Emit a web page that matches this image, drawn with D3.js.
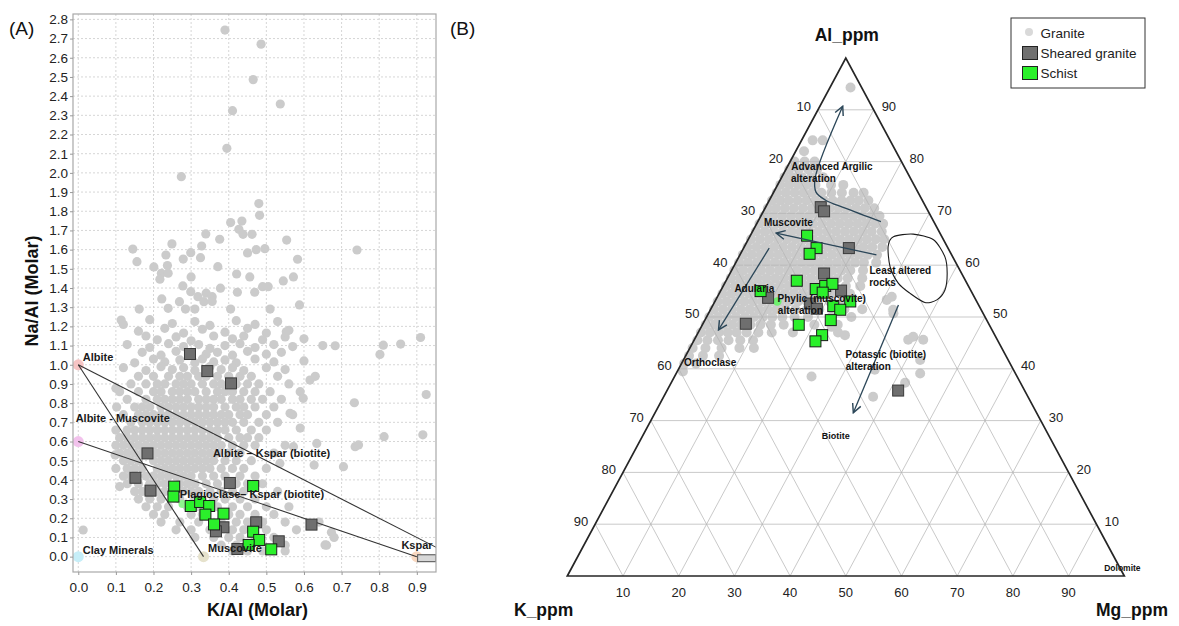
<!DOCTYPE html>
<html>
<head>
<meta charset="utf-8">
<script src="https://cdn.jsdelivr.net/npm/d3@7"></script>
<style>
  body { margin: 0; background: #fff; }
  svg { display: block; }
  text { font-family: Arial, "Liberation Sans", Helvetica, sans-serif; }
</style>
</head>
<body>
<svg id="chart" width="1179" height="626"></svg>
<script>
// ---------- Panel A : Na/Al vs K/Al (molar) ----------
const xTicksA = [0.0, 0.1, 0.2, 0.3, 0.4, 0.5, 0.6, 0.7, 0.8, 0.9];
const yTicksA = [0.0, 0.1, 0.2, 0.3, 0.4, 0.5, 0.6, 0.7, 0.8, 0.9, 1.0, 1.1, 1.2, 1.3, 1.4,
                 1.5, 1.6, 1.7, 1.8, 1.9, 2.0, 2.1, 2.2, 2.3, 2.4, 2.5, 2.6, 2.7, 2.8];

// granite samples in the main cluster, grouped by Na/Al level (K/Al values per level)
const graniteARows = [
  {y: 0.94, x: [0.16,0.20,0.24,0.27,0.29,0.32,0.34,0.37,0.40,0.43,0.46,0.53,0.63]},
  {y: 0.90, x: [0.14,0.18,0.21,0.23,0.26,0.28,0.30,0.33,0.36,0.38,0.42,0.45,0.48,0.56]},
  {y: 0.86, x: [0.11,0.16,0.20,0.22,0.25,0.27,0.29,0.31,0.34,0.37,0.39,0.41,0.44,0.47,0.51,0.59]},
  {y: 0.82, x: [0.13,0.18,0.21,0.23,0.25,0.27,0.29,0.32,0.34,0.36,0.38,0.41,0.43,0.46,0.49,0.54]},
  {y: 0.78, x: [0.15,0.17,0.19,0.22,0.24,0.26,0.28,0.30,0.32,0.34,0.36,0.39,0.42,0.44,0.47,0.52]},
  {y: 0.74, x: [0.12,0.16,0.18,0.20,0.22,0.24,0.26,0.28,0.30,0.32,0.34,0.36,0.38,0.40,0.43,0.45,0.50,0.57]},
  {y: 0.70, x: [0.14,0.17,0.19,0.21,0.23,0.25,0.27,0.29,0.31,0.33,0.35,0.37,0.39,0.41,0.44,0.48,0.53]},
  {y: 0.66, x: [0.10,0.13,0.15,0.17,0.19,0.21,0.23,0.25,0.27,0.29,0.31,0.33,0.35,0.37,0.39,0.42,0.46,0.50]},
  {y: 0.62, x: [0.11,0.13,0.15,0.17,0.19,0.21,0.23,0.25,0.27,0.29,0.31,0.33,0.35,0.37,0.40,0.43,0.45,0.48]},
  {y: 0.58, x: [0.10,0.12,0.14,0.16,0.18,0.20,0.22,0.24,0.26,0.28,0.30,0.32,0.34,0.36,0.38,0.41,0.44,0.47,0.55]},
  {y: 0.54, x: [0.11,0.13,0.15,0.17,0.19,0.21,0.23,0.25,0.27,0.29,0.31,0.33,0.35,0.37,0.40,0.43,0.52]},
  {y: 0.50, x: [0.12,0.14,0.16,0.20,0.22,0.24,0.26,0.28,0.30,0.32,0.34,0.36,0.39,0.42,0.46]},
  {y: 0.46, x: [0.10,0.13,0.15,0.17,0.21,0.23,0.25,0.27,0.29,0.31,0.33,0.35,0.38,0.41,0.44,0.50]},
  {y: 0.42, x: [0.12,0.14,0.18,0.20,0.22,0.24,0.26,0.28,0.30,0.33,0.36,0.39,0.43,0.47]},
  {y: 0.38, x: [0.13,0.16,0.19,0.21,0.23,0.27,0.29,0.31,0.34,0.37,0.42,0.45,0.49]},
  {y: 0.34, x: [0.15,0.17,0.21,0.23,0.28,0.30,0.32,0.35,0.38,0.41,0.44,0.53]},
  {y: 0.30, x: [0.16,0.19,0.22,0.27,0.31,0.36,0.39,0.43,0.47]},
  {y: 0.26, x: [0.18,0.21,0.24,0.29,0.32,0.37,0.41,0.45,0.50,0.56]},
  {y: 0.22, x: [0.20,0.23,0.30,0.33,0.40,0.43,0.47,0.52]},
  {y: 0.18, x: [0.22,0.27,0.32,0.38,0.42,0.45,0.49,0.55,0.64]},
  {y: 0.14, x: [0.26,0.30,0.35,0.41,0.44,0.50,0.58]},
  {y: 0.10, x: [0.31,0.36,0.40,0.43,0.47,0.52,0.68]},
  {y: 0.06, x: [0.38,0.42,0.46,0.55,0.66]},
  {y: 0.03, x: [0.41,0.45,0.49,0.55]}
];

// remaining granite samples [K/Al, Na/Al]
const graniteAScatter = [
  [0.12,1.21],[0.19,1.235],[0.25,1.215],[0.31,1.225],[0.35,1.205],[0.42,1.23],[0.47,1.21],[0.53,1.225],
  [0.16,1.175],[0.23,1.19],[0.28,1.165],[0.33,1.185],[0.39,1.17],[0.45,1.19],[0.50,1.165],[0.56,1.18],
  [0.18,1.15],[0.21,1.13],[0.26,1.145],[0.30,1.125],[0.36,1.15],[0.41,1.135],[0.44,1.15],[0.49,1.13],
  [0.55,1.145],[0.60,1.135],
  [0.13,1.105],[0.19,1.09],[0.24,1.11],[0.28,1.095],[0.32,1.105],[0.35,1.085],[0.39,1.10],[0.43,1.11],
  [0.47,1.09],[0.52,1.105],[0.57,1.095],[0.65,1.10],
  [0.17,1.065],[0.22,1.05],[0.26,1.07],[0.34,1.055],[0.37,1.065],[0.41,1.05],[0.45,1.07],[0.50,1.055],
  [0.54,1.065],
  [0.15,1.01],[0.20,1.03],[0.23,1.015],[0.27,1.025],[0.31,1.01],[0.33,1.03],[0.36,1.015],[0.39,1.025],
  [0.42,1.01],[0.47,1.03],[0.52,1.015],[0.60,1.02],
  [0.12,0.985],[0.18,0.97],[0.22,0.99],[0.25,0.975],[0.28,0.985],[0.31,0.97],[0.35,0.99],[0.38,0.975],
  [0.41,0.985],[0.44,0.97],[0.50,0.985],[0.55,0.975],
  [0.390,2.744],[0.486,2.671],[0.465,2.486],[0.410,2.324],[0.537,2.359],[0.395,2.128],[0.274,1.980],
  [0.480,1.840],[0.482,1.779],[0.405,1.741],[0.435,1.749],[0.427,1.706],[0.438,1.680],[0.462,1.680],
  [0.339,1.682],[0.376,1.654],[0.554,1.650],[0.145,1.603],[0.156,1.537],[0.249,1.630],[0.233,1.572],
  [0.201,1.510],[0.237,1.517],[0.221,1.477],[0.239,1.477],[0.217,1.446],[0.279,1.551],[0.299,1.584],
  [0.328,1.619],[0.325,1.558],[0.371,1.511],[0.300,1.458],[0.278,1.411],[0.299,1.381],[0.318,1.355],
  [0.340,1.373],[0.334,1.329],[0.356,1.355],[0.356,1.330],[0.269,1.329],[0.222,1.343],[0.378,1.399],
  [0.421,1.473],[0.423,1.378],[0.456,1.458],[0.450,1.583],[0.473,1.600],[0.496,1.605],[0.490,1.407],
  [0.505,1.407],[0.469,1.378],[0.545,1.437],[0.572,1.458],[0.583,1.550],[0.588,1.312],[0.741,1.598],
  [0.239,1.294],[0.162,1.290],[0.285,1.290],[0.310,1.290],[0.405,1.290],[0.510,1.290],[0.114,1.233],
  [0.553,1.172],[0.683,1.099],[0.811,1.102],[0.857,1.108],[0.910,1.142],[0.802,1.054],[0.925,0.845],
  [0.734,0.802],[0.813,0.625],[0.916,0.635],[0.736,0.573],[0.745,0.582],[0.705,0.469],[0.634,0.590],
  [0.627,0.477],[0.673,0.127],[0.656,0.061],[0.013,0.139],[0.616,0.920],[0.598,0.825],[0.563,0.747],
  [0.590,0.670],[0.572,0.573],[0.536,0.486],[0.100,0.877],[0.102,0.780],[0.098,0.530],[0.110,0.365]
];

const shearedA = [
  [0.297,1.056],[0.343,0.967],[0.406,0.903],[0.184,0.538],[0.152,0.411],[0.192,0.344],[0.403,0.384],
  [0.473,0.179],[0.386,0.153],[0.366,0.132],[0.620,0.167],[0.533,0.080],[0.423,0.040]
];
const schistA = [
  [0.255,0.365],[0.253,0.313],[0.299,0.264],[0.324,0.285],[0.348,0.264],[0.338,0.219],[0.386,0.224],
  [0.361,0.168],[0.465,0.368],[0.465,0.130],[0.481,0.087],[0.453,0.061],[0.513,0.038]
];
const schistDotsA = [[0.277,0.274]];

// mineral end members and the tie lines between them
const endMembersA = [
  {x: 0.0,   y: 1.0, color: "#f6c4c4"},
  {x: 0.0,   y: 0.6, color: "#f2c2ec"},
  {x: 0.0,   y: 0.0, color: "#c6eef8"},
  {x: 0.333, y: 0.0, color: "#e6e2cc"},
  {x: 0.9,   y: 0.0, color: "#f8d8c0"}
];
const tieLinesA = [
  [[0, 1.0], [0.333, 0]],
  [[0, 1.0], [1.0, 0]],
  [[0, 0.6], [0.9, 0]]
];
const ksparBoxA = {x0: 0.902, x1: 0.951, y0: 0.010, y1: -0.026};
const labelsA = [
  {text: "Albite", x: 0.012, y: 1.02},
  {text: "Albite - Muscovite", x: -0.007, y: 0.703},
  {text: "Albite – Kspar (biotite)", x: 0.358, y: 0.521},
  {text: "Plagioclase– Kspar (biotite)", x: 0.27, y: 0.304},
  {text: "Clay Minerals", x: 0.012, y: 0.014},
  {text: "Muscovite", x: 0.345, y: 0.026},
  {text: "Kspar", x: 0.859, y: 0.039}
];

// ---------- Panel B : Al - K - Mg ternary (percent) ----------
const ternTicks = [10, 20, 30, 40, 50, 60, 70, 80, 90];

// granite samples, grouped by Al % (Mg % values per level; K is the remainder)
const graniteBRows = [
  {al: 80.0, mg: [0.8,2.6,4.4]},
  {al: 78.5, mg: [0.6,2.3,4.0,5.6]},
  {al: 77.0, mg: [0.5,2.0,3.6,5.3,7.4]},
  {al: 75.5, mg: [0.5,2.1,3.7,5.2,6.8,9.6,11.8]},
  {al: 74.0, mg: [0.6,2.2,3.8,5.4,7.0,8.6,10.4,12.3,14.4,16.2]},
  {al: 72.5, mg: [0.5,2.0,3.5,5.1,6.7,8.3,9.8,11.4,13.0,14.6,16.1,17.8]},
  {al: 71.0, mg: [0.5,2.0,3.6,5.2,6.8,8.4,10.0,11.6,13.2,14.7,16.3,17.9,19.6]},
  {al: 69.5, mg: [0.6,2.2,3.8,5.4,7.0,8.6,10.2,11.8,13.4,15.0,16.6,18.2,19.8,21.3]},
  {al: 68.0, mg: [0.5,2.1,3.7,5.3,6.9,8.5,10.1,11.7,13.3,14.9,16.5,18.1,19.7,21.3,22.7]},
  {al: 66.5, mg: [0.6,2.2,3.8,5.4,7.0,8.6,10.2,11.8,13.4,15.0,16.6,18.2,19.8,21.4,23.2]},
  {al: 65.0, mg: [0.5,2.1,3.7,5.3,6.9,8.5,10.1,11.7,13.3,14.9,16.5,18.1,19.7,21.3,22.9,24.4]},
  {al: 63.5, mg: [0.6,2.2,3.8,5.4,7.0,8.6,10.2,11.8,13.4,15.0,16.6,18.2,19.8,21.4,23.0,24.8]},
  {al: 62.0, mg: [0.5,2.1,3.7,5.3,6.9,8.5,10.1,11.7,13.3,14.9,16.5,18.1,19.7,21.3,22.9,24.6]},
  {al: 60.5, mg: [0.6,2.2,3.8,5.4,7.0,8.6,10.2,11.8,13.4,15.0,16.6,18.2,19.8,21.4,23.0,25.2]},
  {al: 59.0, mg: [0.5,2.1,3.7,5.3,6.9,8.5,10.1,11.7,13.3,14.9,16.5,18.1,19.7,21.3,23.6]},
  {al: 57.5, mg: [0.6,2.2,3.8,5.4,7.0,8.6,10.2,11.8,13.4,15.0,16.6,18.2,19.8,21.6,24.2]},
  {al: 56.0, mg: [0.5,2.1,3.7,5.3,6.9,8.5,10.1,11.7,13.3,14.9,16.5,18.1,19.7,22.0,24.6]},
  {al: 54.5, mg: [0.6,2.2,3.8,5.4,7.0,8.6,10.2,11.8,13.4,15.0,16.6,18.2,20.1,23.5]},
  {al: 53.0, mg: [0.5,2.1,3.7,5.3,6.9,8.5,10.1,11.7,13.3,14.9,16.5,18.4,20.6,22.8]},
  {al: 51.5, mg: [0.6,2.2,3.8,5.4,7.0,8.6,10.2,11.8,13.4,15.2,17.3,19.5,24.0,27.2]},
  {al: 50.0, mg: [0.5,2.1,3.7,5.3,6.9,8.5,10.1,11.8,13.6,15.8,18.2,22.4,26.0]},
  {al: 48.5, mg: [0.6,2.2,3.8,5.4,7.0,8.6,10.4,12.3,14.6,20.1,24.3]},
  {al: 47.0, mg: [0.5,2.1,3.7,5.3,6.9,8.7,10.8,13.2,17.0,25.1]},
  {al: 45.5, mg: [0.6,2.4,4.3,6.2,8.3,10.6]},
  {al: 44.0, mg: [0.5,2.8,5.7,8.9,11.5]},
  {al: 42.5, mg: [0.6,3.1,6.0]},
  {al: 41.0, mg: [0.5,2.6]},
  {al: 39.5, mg: [1.0]}
];
// isolated granite samples [Al %, Mg %]
const graniteBScatter = [
  [94.3,3.7],[84.1,2.0],[84.1,3.8],[82.0,1.5],[46.5,26.6],[48.1,23.4],[38.5,24.6],[34.6,37.6],
  [39.8,35.3],[45.6,38.4],[45.6,41.1],[41.7,42.5],[50.7,33.2],[53.3,30.7],[39.1,43.8],[46.2,39.0],
  [37.3,42.0],[53.9,31.3],[51.4,32.8]
];
const shearedB = [
  [71.2,9.9],[70.4,10.9],[63.3,18.9],[58.4,16.9],[55.1,21.6],[53.7,9.2],[52.6,17.3],[51.6,19.0],
  [48.7,7.7],[35.8,41.5]
];
const schistB = [
  [65.7,10.2],[63.3,13.1],[62.2,12.4],[57.0,12.7],[55.4,16.9],[56.0,18.3],[56.4,19.4],[54.7,18.5],
  [55.0,7.2],[53.0,24.3],[52.1,21.7],[51.4,23.3],[49.4,22.6],[48.5,17.3],[46.5,22.5],[45.3,21.9]
];
const schistDotsB = [[53.0,11.2]];

// alteration trends [Al %, Mg %]
const trendsB = [
  [[68.4,22.1],[71.0,14.4],[72.6,10.0],[74.1,7.6],[76.8,6.1],[90.7,4.1]],
  [[62.0,24.5],[66.2,4.4]],
  [[63.3,4.6],[47.5,3.4]],
  [[52.3,33.3],[31.5,35.6]]
];
const leastAlteredB = [
  [65.5,25.8],[66.0,29.1],[64.9,33.3],[61.6,37.0],[58.4,39.0],[55.2,40.2],[53.3,39.7],
  [52.8,37.8],[54.6,34.2],[56.5,31.2],[59.7,28.1],[63.6,25.8]
];
const labelsB = [
  {text: "Advanced Argilic", al: 78.4, mg: 1.0, size: 10},
  {text: "alteration", al: 76.1, mg: 2.1, size: 10},
  {text: "Muscovite", al: 67.6, mg: 1.5, size: 10},
  {text: "Least altered", al: 58.3, mg: 25.1, size: 10},
  {text: "rocks", al: 56.0, mg: 26.2, size: 10},
  {text: "Adularia", al: 54.8, mg: 2.6, size: 10},
  {text: "Phylic (muscovite)", al: 52.9, mg: 11.3, size: 10},
  {text: "alteration", al: 50.6, mg: 12.5, size: 10},
  {text: "Orthoclase", al: 40.5, mg: 0.7, size: 10},
  {text: "Potassic (biotite)", al: 42.1, mg: 28.9, size: 10},
  {text: "alteration", al: 39.8, mg: 30.1, size: 10},
  {text: "Biotite", al: 26.4, mg: 32.5, size: 9},
  {text: "Dolomite", al: 1.0, mg: 95.9, size: 8.5}
];
const legendItems = [
  {label: "Granite", kind: "granite"},
  {label: "Sheared granite", kind: "sheared"},
  {label: "Schist", kind: "schist"}
];

// ---------- styles ----------
const C = {
  granite: "#cbcbcb",
  grid: "#d6d6d6",
  sheared: "#6f6f6f",
  schist: "#2bf02b",
  edge: "#262626",
  trend: "#2b4658"
};

const svg = d3.select("#chart");
const defs = svg.append("defs");

// =============== Panel A ===============
const A = {left: 73, right: 436, top: 14, bottom: 572};
const xA = d3.scaleLinear().domain([-0.014, 0.951]).range([A.left, A.right]);
const yA = d3.scaleLinear().domain([-0.08, 2.828]).range([A.bottom, A.top]);

defs.append("clipPath").attr("id", "clipA").append("rect")
  .attr("x", A.left).attr("y", A.top).attr("width", A.right - A.left).attr("height", A.bottom - A.top);

const gA = svg.append("g");
// dashed grid
gA.append("g").selectAll("line").data(xTicksA).join("line")
  .attr("x1", d => xA(d)).attr("x2", d => xA(d)).attr("y1", A.top).attr("y2", A.bottom)
  .attr("stroke", C.grid).attr("stroke-dasharray", "2,2");
gA.append("g").selectAll("line").data(yTicksA).join("line")
  .attr("x1", A.left).attr("x2", A.right).attr("y1", d => yA(d)).attr("y2", d => yA(d))
  .attr("stroke", C.grid).attr("stroke-dasharray", "2,2");

const plotA = gA.append("g").attr("clip-path", "url(#clipA)");
const granitePtsA = graniteARows.flatMap(r => r.x.map(x => [x, r.y])).concat(graniteAScatter);
plotA.append("g").selectAll("circle").data(granitePtsA).join("circle")
  .attr("cx", d => xA(d[0])).attr("cy", d => yA(d[1])).attr("r", 4.6).attr("fill", C.granite);

plotA.append("g").selectAll("circle").data(endMembersA).join("circle")
  .attr("cx", d => xA(d.x)).attr("cy", d => yA(d.y)).attr("r", 5.5).attr("fill", d => d.color);

plotA.append("g").selectAll("line").data(tieLinesA).join("line")
  .attr("x1", d => xA(d[0][0])).attr("y1", d => yA(d[0][1]))
  .attr("x2", d => xA(d[1][0])).attr("y2", d => yA(d[1][1]))
  .attr("stroke", "#333").attr("stroke-width", 1.1);

plotA.append("rect")
  .attr("x", xA(ksparBoxA.x0)).attr("y", yA(ksparBoxA.y0))
  .attr("width", xA(ksparBoxA.x1) - xA(ksparBoxA.x0)).attr("height", yA(ksparBoxA.y1) - yA(ksparBoxA.y0))
  .attr("fill", "#d8d8d8").attr("stroke", "#666").attr("stroke-width", 1.2);

plotA.append("g").selectAll("circle").data(schistDotsA).join("circle")
  .attr("cx", d => xA(d[0])).attr("cy", d => yA(d[1])).attr("r", 4).attr("fill", "#8ef58e");

const sq = 11;
plotA.append("g").selectAll("rect").data(shearedA).join("rect")
  .attr("x", d => xA(d[0]) - sq / 2).attr("y", d => yA(d[1]) - sq / 2)
  .attr("width", sq).attr("height", sq)
  .attr("fill", C.sheared).attr("stroke", "#3a3a3a").attr("stroke-width", 1);
plotA.append("g").selectAll("rect").data(schistA).join("rect")
  .attr("x", d => xA(d[0]) - sq / 2).attr("y", d => yA(d[1]) - sq / 2)
  .attr("width", sq).attr("height", sq)
  .attr("fill", C.schist).attr("stroke", "#1a1a1a").attr("stroke-width", 1);

gA.append("g").selectAll("text").data(labelsA).join("text")
  .attr("x", d => xA(d.x)).attr("y", d => yA(d.y))
  .attr("font-size", 11).attr("font-weight", "bold").attr("fill", "#1a1a1a")
  .text(d => d.text);

// frame
gA.append("rect").attr("x", A.left).attr("y", A.top)
  .attr("width", A.right - A.left).attr("height", A.bottom - A.top)
  .attr("fill", "none").attr("stroke", "#a8a8a8").attr("stroke-width", 1.2);

// axes
const axA_y = gA.append("g").attr("transform", `translate(${A.left},0)`)
  .call(d3.axisLeft(yA).tickValues(yTicksA).tickFormat(d3.format(".1f")).tickSize(3).tickPadding(2));
const axA_x = gA.append("g").attr("transform", `translate(0,${A.bottom})`)
  .call(d3.axisBottom(xA).tickValues(xTicksA).tickFormat(d3.format(".1f")).tickSize(3).tickPadding(7));
[axA_y, axA_x].forEach(ax => {
  ax.select(".domain").remove();
  ax.selectAll(".tick line").attr("stroke", "#999");
  ax.selectAll(".tick text").attr("font-size", 13.5).attr("fill", "#222")
    .attr("font-family", "Arial, 'Liberation Sans', sans-serif");
});

gA.append("text").attr("transform", `translate(38,${(A.top + A.bottom) / 2 - 2}) rotate(-90)`)
  .attr("text-anchor", "middle").attr("font-size", 18).attr("font-weight", "bold").attr("fill", "#111")
  .text("Na/Al (Molar)");
gA.append("text").attr("x", (A.left + A.right) / 2 + 3).attr("y", 616)
  .attr("text-anchor", "middle").attr("font-size", 18).attr("font-weight", "bold").attr("fill", "#111")
  .text("K/Al (Molar)");
svg.append("text").attr("x", 9).attr("y", 35).attr("font-size", 19).attr("fill", "#111").text("(A)");

// =============== Panel B ===============
// horizontal position depends on Mg + Al/2, vertical on Al
const xB = d3.scaleLinear().domain([0, 100]).range([567.3, 1124.3]);
const yB = d3.scaleLinear().domain([0, 100]).range([576, 58]);
const proj = (al, mg) => [xB(mg + al / 2), yB(al)];

const gB = svg.append("g");

// granite cloud
const granitePtsB = graniteBRows.flatMap(r => r.mg.map(m => [r.al, m])).concat(graniteBScatter);
gB.append("g").selectAll("circle").data(granitePtsB).join("circle")
  .attr("cx", d => proj(d[0], d[1])[0]).attr("cy", d => proj(d[0], d[1])[1])
  .attr("r", 5).attr("fill", C.granite);

// ternary grid (constant Al, constant Mg, constant K)
const gridSegs = [];
ternTicks.forEach(v => {
  gridSegs.push([proj(v, 0), proj(v, 100 - v)]);       // Al = v
  gridSegs.push([proj(0, v), proj(100 - v, v)]);       // Mg = v
  gridSegs.push([proj(0, 100 - v), proj(100 - v, 0)]); // K = v
});
gB.append("g").selectAll("line").data(gridSegs).join("line")
  .attr("x1", d => d[0][0]).attr("y1", d => d[0][1]).attr("x2", d => d[1][0]).attr("y2", d => d[1][1])
  .attr("stroke", "#b4b4b4").attr("stroke-opacity", 0.8).attr("stroke-width", 0.9);

gB.append("g").selectAll("circle").data(schistDotsB).join("circle")
  .attr("cx", d => proj(d[0], d[1])[0]).attr("cy", d => proj(d[0], d[1])[1])
  .attr("r", 4.3).attr("fill", "#6ff06f");

gB.append("g").selectAll("rect").data(shearedB).join("rect")
  .attr("x", d => proj(d[0], d[1])[0] - sq / 2).attr("y", d => proj(d[0], d[1])[1] - sq / 2)
  .attr("width", sq).attr("height", sq)
  .attr("fill", C.sheared).attr("stroke", "#3a3a3a").attr("stroke-width", 1);
gB.append("g").selectAll("rect").data(schistB).join("rect")
  .attr("x", d => proj(d[0], d[1])[0] - sq / 2).attr("y", d => proj(d[0], d[1])[1] - sq / 2)
  .attr("width", sq).attr("height", sq)
  .attr("fill", C.schist).attr("stroke", "#1a1a1a").attr("stroke-width", 1);

// trend arrows
defs.append("marker").attr("id", "openArrow")
  .attr("viewBox", "0 0 10 10").attr("refX", 9).attr("refY", 5)
  .attr("markerUnits", "userSpaceOnUse").attr("markerWidth", 11).attr("markerHeight", 11)
  .attr("orient", "auto")
  .append("path").attr("d", "M1,1 L9,5 L1,9").attr("fill", "none")
  .attr("stroke", C.trend).attr("stroke-width", 1.3);

const trendLine = d3.line().x(d => proj(d[0], d[1])[0]).y(d => proj(d[0], d[1])[1])
  .curve(d3.curveCatmullRom.alpha(0.5));
gB.append("g").selectAll("path").data(trendsB).join("path")
  .attr("d", trendLine).attr("fill", "none")
  .attr("stroke", C.trend).attr("stroke-width", 1.3).attr("marker-end", "url(#openArrow)");

// least altered field
gB.append("path").datum(leastAlteredB)
  .attr("d", d3.line().x(d => proj(d[0], d[1])[0]).y(d => proj(d[0], d[1])[1]).curve(d3.curveCardinalClosed.tension(0.2)))
  .attr("fill", "none").attr("stroke", "#1a1a1a").attr("stroke-width", 1.1);

// field labels
gB.append("g").selectAll("text").data(labelsB).join("text")
  .attr("x", d => proj(d.al, d.mg)[0]).attr("y", d => proj(d.al, d.mg)[1])
  .attr("font-size", d => d.size).attr("font-weight", "bold").attr("fill", "#111")
  .text(d => d.text);

// triangle outline
gB.append("path")
  .attr("d", d3.line()([proj(0, 0), proj(0, 100), proj(100, 0)]) + "Z")
  .attr("fill", "none").attr("stroke", C.edge).attr("stroke-width", 1.7).attr("stroke-linejoin", "miter");

// tick labels
const tickFont = 13;
gB.append("g").selectAll("text").data(ternTicks).join("text")   // K along left edge
  .attr("x", d => proj(100 - d, 0)[0] - 7).attr("y", d => proj(100 - d, 0)[1] - 2)
  .attr("text-anchor", "end").attr("dominant-baseline", "middle")
  .attr("font-size", tickFont).attr("fill", "#222").text(d => d);
gB.append("g").selectAll("text").data(ternTicks).join("text")   // Al along right edge
  .attr("x", d => proj(d, 100 - d)[0] + 8).attr("y", d => proj(d, 100 - d)[1] - 2)
  .attr("text-anchor", "start").attr("dominant-baseline", "middle")
  .attr("font-size", tickFont).attr("fill", "#222").text(d => d);
gB.append("g").selectAll("text").data(ternTicks).join("text")   // Mg along base
  .attr("x", d => proj(0, d)[0]).attr("y", proj(0, 0)[1] + 21)
  .attr("text-anchor", "middle")
  .attr("font-size", tickFont).attr("fill", "#222").text(d => d);

// vertex titles
gB.append("text").attr("x", proj(100, 0)[0] + 1).attr("y", 41).attr("text-anchor", "middle")
  .attr("font-size", 17.5).attr("font-weight", "bold").attr("fill", "#111").text("Al_ppm");
gB.append("text").attr("x", 514).attr("y", 616).attr("text-anchor", "start")
  .attr("font-size", 17.5).attr("font-weight", "bold").attr("fill", "#111").text("K_ppm");
gB.append("text").attr("x", 1168).attr("y", 616).attr("text-anchor", "end")
  .attr("font-size", 17.5).attr("font-weight", "bold").attr("fill", "#111").text("Mg_ppm");
svg.append("text").attr("x", 450).attr("y", 35).attr("font-size", 19).attr("fill", "#111").text("(B)");

// legend
const lg = svg.append("g").attr("transform", "translate(1011,18)");
lg.append("rect").attr("width", 134).attr("height", 70)
  .attr("fill", "#fff").attr("stroke", "#333").attr("stroke-width", 1);
const li = lg.selectAll("g.item").data(legendItems).join("g").attr("class", "item")
  .attr("transform", (d, i) => `translate(0,${15 + i * 20})`);
li.each(function (d) {
  const g = d3.select(this);
  if (d.kind === "granite") {
    g.append("circle").attr("cx", 18).attr("cy", -1).attr("r", 4).attr("fill", "#d9d9d9");
  } else {
    g.append("rect").attr("x", 11.5).attr("y", -6.5).attr("width", 15).attr("height", 13)
      .attr("fill", d.kind === "sheared" ? C.sheared : C.schist).attr("stroke", "#222").attr("stroke-width", 1);
  }
  g.append("text").attr("x", 29.5).attr("y", 5).attr("font-size", 13.5).attr("fill", "#222").text(d.label);
});
</script>
</body>
</html>
